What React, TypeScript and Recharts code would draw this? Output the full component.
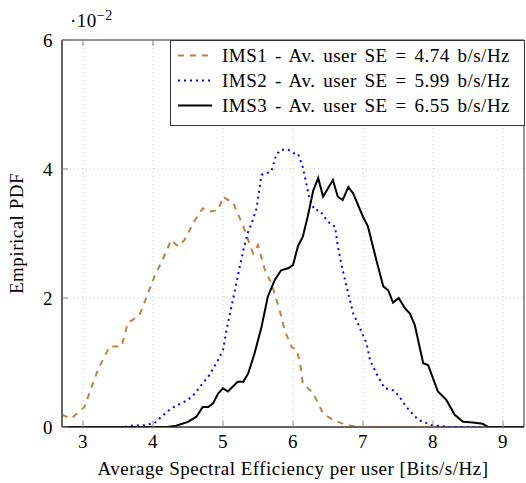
import React from 'react';
import { LineChart, Line, XAxis, YAxis, CartesianGrid, Legend, ReferenceArea } from 'recharts';

const FONT = 'Liberation Serif';

const xTicks = [3, 4, 5, 6, 7, 8, 9];
const yTicks = [0, 2, 4, 6];

const seriesNames = [
  'IMS1 - Av. user SE = 4.74 b/s/Hz',
  'IMS2 - Av. user SE = 5.99 b/s/Hz',
  'IMS3 - Av. user SE = 6.55 b/s/Hz',
];

// values in units of 10^-2
const ims1X = [2.7, 2.83, 3.02, 3.21, 3.38, 3.55, 3.64, 3.81, 4.02, 4.14, 4.26, 4.36, 4.45, 4.6, 4.71, 4.81, 4.93, 5.0, 5.07, 5.14, 5.29, 5.43, 5.5, 5.6, 5.69, 5.81, 5.88, 5.98, 6.05, 6.1, 6.14, 6.29, 6.43, 6.57, 6.76, 6.95, 7.5, 8.0, 8.7];
const ims1Y = [0.19, 0.13, 0.31, 0.88, 1.25, 1.25, 1.61, 1.74, 2.33, 2.6, 2.9, 2.8, 2.9, 3.21, 3.39, 3.34, 3.36, 3.57, 3.52, 3.49, 3.11, 2.69, 2.82, 2.43, 2.23, 1.81, 1.5, 1.24, 1.2, 1.0, 0.68, 0.52, 0.21, 0.11, 0.03, 0, 0, 0, 0];

const ims2X = [3.6, 3.67, 3.88, 4.02, 4.12, 4.26, 4.41, 4.5, 4.6, 4.69, 4.81, 4.93, 5.0, 5.05, 5.1, 5.17, 5.24, 5.29, 5.35, 5.41, 5.48, 5.55, 5.69, 5.76, 5.83, 5.93, 6.02, 6.07, 6.14, 6.19, 6.24, 6.31, 6.38, 6.48, 6.55, 6.6, 6.64, 6.71, 6.79, 6.86, 6.95, 7.05, 7.1, 7.19, 7.31, 7.43, 7.5, 7.62, 7.79, 8.0, 8.1, 8.2, 8.7];
const ims2Y = [0, 0.02, 0.03, 0.06, 0.16, 0.29, 0.37, 0.42, 0.52, 0.65, 0.81, 1.04, 1.19, 1.5, 1.76, 2.12, 2.49, 2.74, 3.0, 3.16, 3.39, 3.91, 3.96, 4.22, 4.3, 4.3, 4.24, 4.24, 4.03, 3.78, 3.52, 3.36, 3.36, 3.21, 3.13, 3.11, 2.8, 2.43, 2.07, 1.76, 1.55, 1.3, 1.04, 0.83, 0.6, 0.57, 0.5, 0.31, 0.11, 0.02, 0.02, 0, 0];

const ims3X = [2.7, 4.2, 4.33, 4.5, 4.62, 4.71, 4.79, 4.86, 4.93, 5.0, 5.07, 5.21, 5.29, 5.36, 5.45, 5.55, 5.64, 5.74, 5.83, 5.93, 6.0, 6.07, 6.14, 6.21, 6.29, 6.36, 6.43, 6.57, 6.64, 6.71, 6.79, 6.86, 7.0, 7.07, 7.19, 7.29, 7.36, 7.43, 7.51, 7.6, 7.67, 7.74, 7.86, 7.93, 8.07, 8.19, 8.31, 8.43, 8.57, 8.71, 8.79, 9.3];
const ims3Y = [0, 0, 0.02, 0.08, 0.16, 0.31, 0.31, 0.37, 0.52, 0.6, 0.55, 0.7, 0.7, 0.83, 1.14, 1.55, 2.02, 2.28, 2.43, 2.46, 2.51, 2.8, 2.95, 3.26, 3.67, 3.86, 3.57, 3.83, 3.57, 3.52, 3.72, 3.62, 3.26, 3.11, 2.59, 2.18, 2.12, 1.93, 2.0, 1.84, 1.76, 1.58, 0.99, 0.96, 0.55, 0.42, 0.19, 0.08, 0.07, 0.05, 0, 0];

const toPts = (xs: number[], ys: number[]) => xs.map((x, i) => ({ x, y: ys[i] }));
const ims1 = toPts(ims1X, ims1Y);
const ims2 = toPts(ims2X, ims2Y);
const ims3 = toPts(ims3X, ims3Y);

const C1 = '#bf8040';
const C2 = '#0000ff';
const C3 = '#000000';
const TICKC = '#888888';
const FRAME = '#333333';

const textStyle = { fontFamily: FONT, fontSize: 19, letterSpacing: 0.5, fill: '#000' } as const;

const XTickBottom = (props: any) => {
  const { x, y, payload } = props;
  return (
    <g>
      <line x1={x} x2={x} y1={y} y2={y - 6} stroke={TICKC} strokeWidth={1} />
      <line x1={x} x2={x} y1={40} y2={46} stroke={TICKC} strokeWidth={1} />
      <text x={x} y={y + 21} textAnchor="middle" {...textStyle}>{payload.value}</text>
    </g>
  );
};
const YTickLeft = (props: any) => {
  const { x, y, payload } = props;
  return (
    <g>
      <line x1={x} x2={x + 6} y1={y} y2={y} stroke={TICKC} strokeWidth={1} />
      <text x={x - 9} y={y + 6.5} textAnchor="end" {...textStyle}>{payload.value}</text>
    </g>
  );
};
const YTickRight = (props: any) => {
  const { x, y } = props;
  return <line x1={x} x2={x - 6} y1={y} y2={y} stroke={TICKC} strokeWidth={1} />;
};

const LegendBox = () => {
  const items = [
    { name: seriesNames[0], color: C1, dash: '6 6' },
    { name: seriesNames[1], color: C2, dash: '2 4' },
    { name: seriesNames[2], color: C3, dash: undefined as string | undefined },
  ];
  return (
    <svg width={355} height={86} style={{ display: 'block' }}>
      <rect x={0.5} y={0.5} width={354} height={85} fill="#fff" stroke={FRAME} strokeWidth={1} />
      {items.map((it, i) => {
        const cy = 15.5 + i * 25;
        return (
          <g key={it.name}>
            <line x1={8} x2={42} y1={cy} y2={cy} stroke={it.color} strokeWidth={2} strokeDasharray={it.dash} />
            <text x={52} y={cy + 6.5} {...textStyle} wordSpacing={2.5}>{it.name}</text>
          </g>
        );
      })}
    </svg>
  );
};

export default function App() {
  return (
    <div style={{ position: 'absolute', left: 0, top: 0, width: 526, height: 483, background: '#fff' }}>
      <LineChart width={526} height={483} margin={{ top: 40, right: 2, bottom: 0, left: 0 }}>
        <CartesianGrid stroke="#c8c8c8" strokeDasharray="1 3" />
        <XAxis
          type="number"
          dataKey="x"
          domain={[2.7, 9.3]}
          allowDataOverflow
          ticks={xTicks}
          height={56}
          tickSize={0}
          tickMargin={0}
          tickLine={false}
          axisLine={{ stroke: FRAME, strokeWidth: 1 }}
          tick={<XTickBottom />}
          label={{
            content: (p: any) => {
              const vb = p.viewBox;
              return (
                <text x={vb.x + vb.width / 2} y={vb.y + 48} textAnchor="middle" {...textStyle}>
                  Average Spectral Efficiency per user [Bits/s/Hz]
                </text>
              );
            },
          }}
        />
        <YAxis
          type="number"
          domain={[0, 6]}
          allowDataOverflow
          ticks={yTicks}
          width={62}
          tickSize={0}
          tickMargin={0}
          tickLine={false}
          axisLine={{ stroke: FRAME, strokeWidth: 1 }}
          tick={<YTickLeft />}
          label={{
            content: (p: any) => {
              const vb = p.viewBox;
              const cx = 23;
              const cy = vb.y + vb.height / 2;
              return (
                <g>
                  <text x={cx} y={cy} textAnchor="middle" transform={`rotate(-90 ${cx} ${cy})`} {...textStyle}>
                    Empirical PDF
                  </text>
                  <text x={vb.x + vb.width + 8} y={vb.y - 13} {...textStyle}>
                    ·10
                    <tspan dy={-7} fontSize={14}>−2</tspan>
                  </text>
                </g>
              );
            },
          }}
        />
        <YAxis
          yAxisId="right"
          orientation="right"
          type="number"
          domain={[0, 6]}
          allowDataOverflow
          ticks={yTicks}
          width={0}
          tickSize={0}
          tickMargin={0}
          tickLine={false}
          axisLine={{ stroke: FRAME, strokeWidth: 1 }}
          tick={<YTickRight />}
        />
        <ReferenceArea x1={2.7} x2={9.3} y1={0} y2={6} fill="none" stroke={FRAME} strokeWidth={1} ifOverflow="visible" />
        <Legend
          layout="vertical"
          align="center"
          verticalAlign="middle"
          content={() => <LegendBox />}
          wrapperStyle={{ position: 'absolute', left: 170, top: 40, width: 355, height: 86 }}
        />
        <Line data={ims1} dataKey="y" name={seriesNames[0]} type="linear" stroke={C1} strokeWidth={2} strokeDasharray="6 6" dot={false} isAnimationActive={false} />
        <Line data={ims2} dataKey="y" name={seriesNames[1]} type="linear" stroke={C2} strokeWidth={2} strokeDasharray="2 4" dot={false} isAnimationActive={false} />
        <Line data={ims3} dataKey="y" name={seriesNames[2]} type="linear" stroke={C3} strokeWidth={2} dot={false} isAnimationActive={false} />
      </LineChart>
    </div>
  );
}
